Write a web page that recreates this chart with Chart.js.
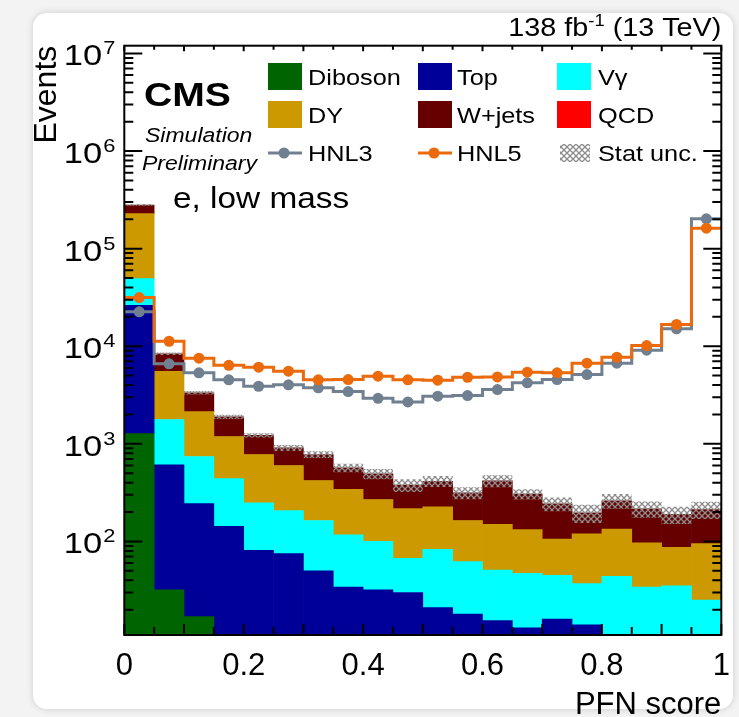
<!DOCTYPE html>
<html>
<head>
<meta charset="utf-8">
<title>PFN score - e, low mass</title>
<script src="https://cdn.jsdelivr.net/npm/chart.js@4.4.1/dist/chart.umd.min.js"></script>
<style>
    html, body { margin: 0; padding: 0; background: #f3f3f3; }
    #wrap { position: relative; width: 739px; height: 717px; overflow: hidden; }
    #card {
        position: absolute; left: 33px; top: 13px; width: 700px; height: 696px;
        background: #fff; border-radius: 14px; box-shadow: 0 0 7px rgba(0, 0, 0, 0.16);
    }
    canvas { position: absolute; left: 0; top: 0; }
</style>
</head>
<body>
<div id="wrap">
    <div id="card"></div>
    <canvas id="canvas-widget-pfn" width="739" height="717"></canvas>
</div>
<script>

// PFN score bins (centres), each bin is 0.05 wide
const binCenters = [0.025, 0.075, 0.125, 0.175, 0.225, 0.275, 0.325, 0.375, 0.425, 0.475,
                    0.525, 0.575, 0.625, 0.675, 0.725, 0.775, 0.825, 0.875, 0.925, 0.975];
const binWidth = 0.05;

// background contributions, events per bin (stacked bottom -> top)
const diboson = [1270, 32, 17, 7, 6, 5, 5, 4, 4, 3, 3, 3, 3, 2, 2, 2, 2, 2, 2, 2];
const topBkg  = [25000, 578, 227, 136, 75, 70, 45, 30, 28, 27, 18, 15, 12.5, 11, 14, 12, 6, 5, 6, 5];
const vgamma  = [23100, 1165, 497, 297, 167, 132, 114, 83, 68, 37, 62, 44, 35.5, 34, 29, 23, 36, 27, 27, 18];
const dy      = [178600, 3765, 1399, 749, 529, 393, 257, 224, 169, 150, 143, 102, 99, 85, 61, 83, 90, 63, 52, 70];
const wjets   = [52000, 2820, 1195, 704, 448, 310, 356, 227, 224, 160, 188, 151, 268, 173, 137, 76, 127, 119, 102, 117];
const qcd     = [0, 0, 0, 0, 0, 0, 0, 0, 0, 0, 0, 0, 0, 0, 0, 0, 0, 0, 0, 0];

// relative statistical uncertainty on the total background
const statUnc = [0.02, 0.03, 0.04, 0.05, 0.05, 0.07, 0.08, 0.10, 0.12, 0.15,
                 0.13, 0.14, 0.14, 0.12, 0.16, 0.21, 0.17, 0.19, 0.20, 0.20];

// signal hypotheses
const hnl3 = [22500, 6600, 5340, 4530, 3890, 4020, 3750, 3430, 2930, 2690,
              3080, 3125, 3600, 4220, 4560, 5130, 6700, 9100, 15070, 202000];
const hnl5 = [31500, 11250, 7540, 6380, 6100, 5550, 4530, 4560, 4930, 4530,
              4490, 4810, 4850, 5420, 5340, 6700, 7710, 10170, 16700, 162000];

// axes: y range, labelled decades (10^n) and x tick spacing
const yMin = 11;
const yMax = 1.2e7;
const yTickExponents = [2, 3, 4, 5, 6, 7];
const xTickStep = 0.2;

const COLORS = {
    diboson: '#006400',
    top: '#000099',
    vgamma: '#00ffff',
    dy: '#cc9900',
    wjets: '#660000',
    qcd: '#ff0000',
    hnl3: '#708090',
    hnl5: '#ea6a0c',
};
const FONT = '"Liberation Sans", Arial, Helvetica, sans-serif';
// the original (ROOT) text is a bit wider than Liberation Sans
const TEXT_STRETCH = 1.15;

const canvas = document.getElementById('canvas-widget-pfn');

// grey cross-hatch used for the stat. uncertainty band
const hatch = (() => {
    const c = document.createElement('canvas');
    c.width = 6;
    c.height = 6;
    const g = c.getContext('2d');
    g.strokeStyle = '#8c8c8c';
    g.lineWidth = 1.3;
    g.beginPath();
    g.moveTo(0, 0); g.lineTo(6, 6);
    g.moveTo(6, 0); g.lineTo(0, 6);
    g.stroke();
    return canvas.getContext('2d').createPattern(c, 'repeat');
})();

const totalBkg = binCenters.map((_, i) => diboson[i] + topBkg[i] + vgamma[i] + dy[i] + wjets[i] + qcd[i]);
const uncLow = totalBkg.map((t, i) => t * (1 - statUnc[i]));
const uncHigh = totalBkg.map((t, i) => t * (1 + statUnc[i]));

// histogram step: one point on each left bin edge plus the last right edge
const edgePoints = (vals) => binCenters.map((c, i) => ({x: c - binWidth / 2, y: vals[i]}))
    .concat([{x: binCenters[binCenters.length - 1] + binWidth / 2, y: vals[vals.length - 1]}]);
const centerPoints = (vals) => binCenters.map((c, i) => ({x: c, y: vals[i]}));

const bkgDataset = (label, data, color) => ({
    type: 'bar', label, data: centerPoints(data),
    backgroundColor: color, borderWidth: 0,
    stack: 'bkg', order: 6, grouped: false,
    barPercentage: 1, categoryPercentage: 1,
});

// 'before': horizontal at the bin value first, then the vertical jump at the edge
const stepDataset = (label, data, color, order, extra = {}) => Object.assign({
    type: 'line', label, data: edgePoints(data), stack: label,
    stepped: 'before', borderColor: color, borderWidth: 3,
    borderJoinStyle: 'miter', pointRadius: 0, fill: false, order,
}, extra);

const markerDataset = (label, data, color, order) => ({
    type: 'line', label, data: centerPoints(data), stack: label + '-pts',
    showLine: false, pointRadius: 5.5, pointBackgroundColor: color,
    pointBorderWidth: 0, order,
});

function drawText(ctx, text, x, y, font, align = 'left', sx = TEXT_STRETCH) {
    ctx.save();
    ctx.font = font;
    ctx.textAlign = align;
    ctx.textBaseline = 'alphabetic';
    ctx.fillStyle = '#000';
    ctx.translate(x, y);
    ctx.scale(sx, 1);
    ctx.fillText(text, 0, 0);
    ctx.restore();
}

function textWidth(ctx, text, font, sx = TEXT_STRETCH) {
    ctx.save();
    ctx.font = font;
    const w = ctx.measureText(text).width * sx;
    ctx.restore();
    return w;
}

const LEGEND = [
    {label: 'Diboson', kind: 'box', color: COLORS.diboson},
    {label: 'Top', kind: 'box', color: COLORS.top},
    {label: 'V\u03b3', kind: 'box', color: COLORS.vgamma},
    {label: 'DY', kind: 'box', color: COLORS.dy},
    {label: 'W+jets', kind: 'box', color: COLORS.wjets},
    {label: 'QCD', kind: 'box', color: COLORS.qcd},
    {label: 'HNL3', kind: 'line', color: COLORS.hnl3},
    {label: 'HNL5', kind: 'line', color: COLORS.hnl5},
    {label: 'Stat unc.', kind: 'hatch'},
];

const cmsDecor = {
    id: 'cmsDecor',

    // frame and ROOT style inward ticks
    afterDatasetsDraw(chart) {
        const {ctx, chartArea: a, scales: {x, y}} = chart;
        ctx.save();
        ctx.strokeStyle = '#000';
        ctx.lineWidth = 2;
        ctx.beginPath();
        for (let d = 1; d <= 7; d++) {
            for (let m = 1; m <= 9; m++) {
                const v = m * Math.pow(10, d);
                if (v < y.min || v > y.max) continue;
                const py = y.getPixelForValue(v);
                const len = m === 1 ? 18 : 9;
                ctx.moveTo(a.left, py); ctx.lineTo(a.left + len, py);
                ctx.moveTo(a.right, py); ctx.lineTo(a.right - len, py);
            }
        }
        for (let k = 0; k <= 20; k++) {
            const px = x.getPixelForValue(k * binWidth);
            const len = k % 2 === 0 ? 11 : 8;
            ctx.moveTo(px, a.bottom); ctx.lineTo(px, a.bottom - len);
            ctx.moveTo(px, a.top); ctx.lineTo(px, a.top + len / 2);
        }
        ctx.stroke();
        ctx.strokeRect(a.left, a.top, a.right - a.left, a.bottom - a.top);
        ctx.restore();
    },

    afterDraw(chart) {
        const {ctx, chartArea: a, scales: {y}} = chart;

        // y tick labels 10^n
        const baseFont = `30px ${FONT}`;
        const expFont = `19px ${FONT}`;
        yTickExponents.forEach(n => {
            const py = y.getPixelForValue(Math.pow(10, n));
            const right = a.left - 9;
            const ew = textWidth(ctx, String(n), expFont);
            drawText(ctx, String(n), right - ew, py + 1, expFont);
            drawText(ctx, '10', right - ew - 1, py + 12, baseFont, 'right');
        });

        // luminosity label
        const lumiFont = `25px ${FONT}`;
        const supFont = `16px ${FONT}`;
        const parts = [['138 fb', lumiFont, 0], ['-1', supFont, -10], [' (13 TeV)', lumiFont, 0]];
        let px = a.right - parts.reduce((s, p) => s + textWidth(ctx, p[0], p[1]), 0);
        parts.forEach(([t, f, dy]) => {
            drawText(ctx, t, px, 36 + dy, f);
            px += textWidth(ctx, t, f);
        });

        drawText(ctx, 'CMS', 144, 106, `bold 34px ${FONT}`);
        drawText(ctx, 'Simulation', 145, 142, `italic 20px ${FONT}`);
        drawText(ctx, 'Preliminary', 142, 170, `italic 20px ${FONT}`);
        drawText(ctx, 'e, low mass', 173, 208, `29px ${FONT}`);

        // legend, 3 columns x 3 rows
        const colBox = [268, 418, 557];
        const colText = [308, 457, 598];
        const rowY = [76.5, 114.5, 153];
        const legendFont = `22px ${FONT}`;
        LEGEND.forEach((e, i) => {
            const col = i % 3;
            const cy = rowY[Math.floor(i / 3)];
            const bx = colBox[col];
            ctx.save();
            if (e.kind === 'box') {
                ctx.fillStyle = e.color;
                ctx.fillRect(bx, cy - 13.5, 34, 27);
            } else if (e.kind === 'line') {
                ctx.strokeStyle = e.color;
                ctx.lineWidth = 3;
                ctx.beginPath();
                ctx.moveTo(bx, cy); ctx.lineTo(bx + 34, cy);
                ctx.stroke();
                ctx.fillStyle = e.color;
                ctx.beginPath();
                ctx.arc(bx + 16, cy, 5.5, 0, Math.PI * 2);
                ctx.fill();
            } else {
                ctx.fillStyle = hatch;
                ctx.fillRect(bx + 3, cy - 9, 30, 18);
            }
            ctx.restore();
            drawText(ctx, e.label, colText[col], cy + 8, legendFont);
        });
    },
};

const chart = new Chart(canvas, {
    type: 'bar',
    data: {
        datasets: [
            bkgDataset('Diboson', diboson, COLORS.diboson),
            bkgDataset('Top', topBkg, COLORS.top),
            bkgDataset('V\u03b3', vgamma, COLORS.vgamma),
            bkgDataset('DY', dy, COLORS.dy),
            bkgDataset('W+jets', wjets, COLORS.wjets),
            bkgDataset('QCD', qcd, COLORS.qcd),
            // stat. uncertainty: hatched area between two step lines
            stepDataset('unc-low', uncLow, 'rgba(0,0,0,0)', 5, {borderWidth: 0}),
            stepDataset('Stat unc.', uncHigh, 'rgba(0,0,0,0)', 4,
                        {borderWidth: 0, fill: '-1', backgroundColor: hatch}),
            markerDataset('HNL5', hnl5, COLORS.hnl5, 0),
            stepDataset('HNL5', hnl5, COLORS.hnl5, 1),
            markerDataset('HNL3', hnl3, COLORS.hnl3, 2),
            stepDataset('HNL3', hnl3, COLORS.hnl3, 3),
        ],
    },
    options: {
        responsive: false,
        animation: false,
        layout: {padding: {top: 45.7, right: 17.7, left: 0, bottom: 0}},
        plugins: {
            legend: {display: false},
            tooltip: {enabled: false},
        },
        scales: {
            x: {
                type: 'linear', position: 'bottom', min: 0, max: 1, offset: false,
                grid: {display: false, offset: false}, border: {display: false},
                ticks: {stepSize: xTickStep, maxRotation: 0, padding: 5, color: '#000',
                        font: {family: FONT, size: 31},
                        callback: (v) => String(Math.round(v * 10) / 10)},
                title: {display: true, text: 'PFN score', align: 'end', color: '#000',
                        font: {family: FONT, size: 31, lineHeight: 0.5},
                        padding: {top: 0, bottom: 4}},
                afterFit(scale) { scale.height = 82; },
            },
            y: {
                type: 'logarithmic', stacked: true, min: yMin, max: yMax,
                grid: {display: false}, border: {display: false},
                ticks: {display: false},
                title: {display: true, text: 'Events', align: 'end', color: '#000',
                        font: {family: FONT, size: 32, lineHeight: 1},
                        padding: {top: 31, bottom: 0}},
                afterFit(scale) { scale.width = 124.3; },
            },
        },
    },
    plugins: [cmsDecor],
});
</script>
</body>
</html>
